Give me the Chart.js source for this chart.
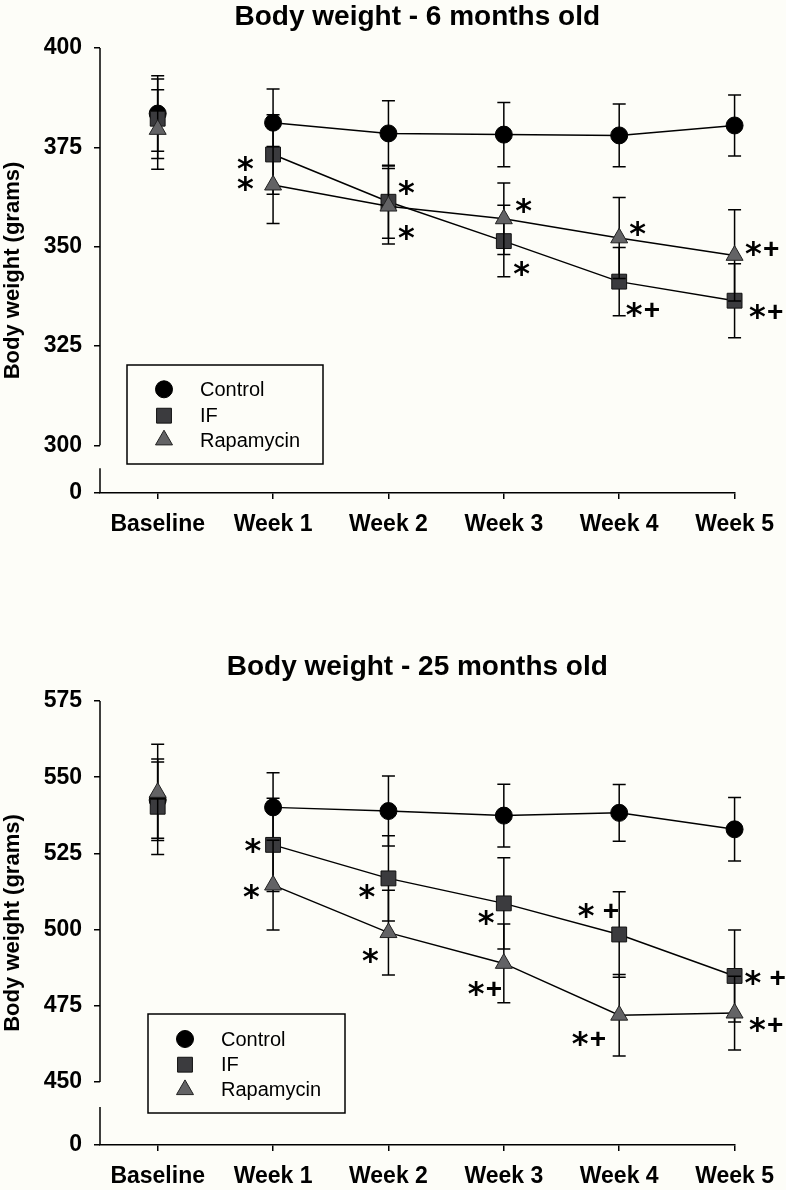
<!DOCTYPE html>
<html>
<head>
<meta charset="utf-8">
<script src="https://cdn.jsdelivr.net/npm/chart.js@4.4.0/dist/chart.umd.min.js"></script>
<style>
  body { margin: 0; background: #fdfdf8; width: 786px; height: 1190px; position: relative; overflow: hidden; }
  canvas { position: absolute; left: 0; }
  #chart6 { top: 0; }
  #chart25 { top: 640px; }
</style>
</head>
<body>
<canvas id="chart6" width="786" height="543"></canvas>
<canvas id="chart25" width="786" height="550"></canvas>
<script>
// ---- data ----
const timepoints = ['Baseline', 'Week 1', 'Week 2', 'Week 3', 'Week 4', 'Week 5'];
const groups = ['Control', 'IF', 'Rapamycin'];

// 6 months old (grams, mean and error)
const control6 = [383.5, 381.2, 378.5, 378.2, 378.0, 380.5];
const controlErr6 = [9.5, 8.5, 8.2, 8.1, 7.9, 7.7];
const if6 = [382.2, 373.2, 361.3, 351.4, 341.2, 336.4];
const ifErr6 = [10.0, 10.0, 9.2, 9.0, 8.6, 9.3];
const rapa6 = [379.5, 365.5, 360.2, 357.0, 352.2, 347.8];
const rapaErr6 = [10.0, 9.7, 9.5, 9.0, 10.2, 11.5];
const ifMarks6 = ['', '*', '*', '*', '*+', '*+'];
const rapaMarks6 = ['', '*', '*', '*', '*', '*+'];
const yTicks6 = [300, 325, 350, 375, 400];

// 25 months old
const control25 = [542.5, 540.1, 538.9, 537.4, 538.3, 532.9];
const controlErr25 = [12.5, 11.4, 11.5, 10.3, 9.3, 10.4];
const if25 = [540.3, 527.8, 516.8, 508.6, 498.4, 484.8];
const ifErr25 = [15.7, 15.3, 14.0, 15.0, 14.0, 15.1];
const rapa25 = [545.0, 514.6, 499.0, 488.9, 471.9, 472.6];
const rapaErr25 = [15.8, 14.7, 13.9, 12.9, 13.4, 12.1];
const ifMarks25 = ['', '*', '*', '*', '* +', '* +'];
const rapaMarks25 = ['', '*', '*', '*+', '*+', '*+'];
const yTicks25 = [450, 475, 500, 525, 550, 575];

const FONT = 'Arial, "Liberation Sans", Helvetica, sans-serif';
Chart.defaults.font.family = FONT;
Chart.defaults.color = '#000';

const BG = '#fdfdf8';
const styles = [
  { pointStyle: 'circle', radius: 8.5, fill: '#000', stroke: '#000', order: 3 },
  { pointStyle: 'rect', radius: 10.5, fill: '#3b3b3e', stroke: '#111', order: 2 },
  { pointStyle: 'triangle', radius: 9.8, fill: '#636365', stroke: '#222', order: 1 }
];

function drawMarker(ctx, st, x, y) {
  ctx.save();
  ctx.fillStyle = st.fill;
  ctx.strokeStyle = st.stroke;
  ctx.lineWidth = 1;
  ctx.beginPath();
  if (st.pointStyle === 'circle') {
    ctx.arc(x, y, st.radius, 0, Math.PI * 2);
  } else if (st.pointStyle === 'rect') {
    const h = st.radius * Math.SQRT1_2;
    ctx.rect(x - h, y - h, 2 * h, 2 * h);
  } else {
    const r = st.radius;
    ctx.moveTo(x, y - r);
    ctx.lineTo(x + r * 0.866, y + r / 2);
    ctx.lineTo(x - r * 0.866, y + r / 2);
    ctx.closePath();
  }
  ctx.fill();
  ctx.stroke();
  ctx.restore();
}

// draws "*", "+" centred on their ink at (cx, cy)
function drawMark(ctx, text, cx, cy) {
  const glyphs = [];
  let gap = 0;
  for (const ch of text) {
    if (ch === ' ') { gap = 9; continue; }
    const font = ch === '*' ? 'bold 32px "DejaVu Sans"' : 'bold 28px ' + FONT;
    ctx.font = font;
    const m = ctx.measureText(ch);
    glyphs.push({ ch, font, m, gap: glyphs.length ? (gap || 2) : 0 });
    gap = 0;
  }
  let total = 0;
  glyphs.forEach(g => { total += g.gap + g.m.actualBoundingBoxLeft + g.m.actualBoundingBoxRight; });
  let x = cx - total / 2;
  ctx.save();
  ctx.fillStyle = '#000';
  ctx.textAlign = 'left';
  ctx.textBaseline = 'alphabetic';
  glyphs.forEach(g => {
    x += g.gap;
    ctx.font = g.font;
    const base = cy + (g.m.actualBoundingBoxAscent - g.m.actualBoundingBoxDescent) / 2;
    ctx.fillText(g.ch, x + g.m.actualBoundingBoxLeft, base);
    x += g.m.actualBoundingBoxLeft + g.m.actualBoundingBoxRight;
  });
  ctx.restore();
}

function makeChart(id, cfg) {
  const series = [cfg.control, cfg.ifd, cfg.rapa];
  const errs = [cfg.controlErr, cfg.ifErr, cfg.rapaErr];
  const marks = [null, cfg.ifMarks, cfg.rapaMarks];

  const datasets = series.map((vals, s) => ({
    label: groups[s],
    data: vals.map((v, i) => ({ x: i, y: v })),
    clip: false,
    borderColor: '#000',
    borderWidth: 1.5,
    tension: 0,
    pointStyle: styles[s].pointStyle,
    pointRadius: styles[s].radius,
    pointHoverRadius: styles[s].radius,
    pointBackgroundColor: styles[s].fill,
    pointBorderColor: styles[s].stroke,
    pointBorderWidth: 1,
    order: styles[s].order,
    // no line from baseline to week 1
    segment: { borderColor: c => c.p0DataIndex === 0 ? 'rgba(0,0,0,0)' : '#000' }
  }));

  const errorBars = {
    id: 'errorBars',
    beforeDatasetDraw(chart, args) {
      const ctx = chart.ctx, xs = chart.scales.x, ys = chart.scales.y;
      const e = errs[args.index];
      ctx.save();
      ctx.strokeStyle = '#000';
      ctx.lineWidth = 1.5;
      series[args.index].forEach((v, i) => {
        const px = xs.getPixelForValue(i);
        const top = ys.getPixelForValue(v + e[i]);
        const bot = ys.getPixelForValue(v - e[i]);
        ctx.beginPath();
        ctx.moveTo(px, top); ctx.lineTo(px, bot);
        ctx.moveTo(px - 6.5, top); ctx.lineTo(px + 6.5, top);
        ctx.moveTo(px - 6.5, bot); ctx.lineTo(px + 6.5, bot);
        ctx.stroke();
      });
      ctx.restore();
    }
  };

  const brokenAxis = {
    id: 'brokenAxis',
    beforeDatasetsDraw(chart) {
      const ctx = chart.ctx, ys = chart.scales.y;
      const x0 = chart.chartArea.left;
      ctx.save();
      ctx.strokeStyle = '#000';
      ctx.lineWidth = 1.5;
      ctx.beginPath();
      ctx.moveTo(x0, ys.getPixelForValue(ys.max));
      ctx.lineTo(x0, ys.getPixelForValue(cfg.yTicks[0]));
      ctx.moveTo(x0, ys.getPixelForValue(cfg.breakAt));
      ctx.lineTo(x0, ys.getPixelForValue(ys.min));
      ctx.stroke();
      ctx.restore();
    }
  };

  const extras = {
    id: 'extras',
    afterDraw(chart) {
      const ctx = chart.ctx, xs = chart.scales.x, ys = chart.scales.y;
      // significance marks
      marks.forEach((mk, s) => {
        if (!mk) return;
        mk.forEach((t, i) => {
          if (!t) return;
          const off = cfg.markOffsets[s][i];
          drawMark(ctx, t, xs.getPixelForValue(i) + off[0], ys.getPixelForValue(series[s][i]) + off[1]);
        });
      });
      // legend box
      const L = cfg.legend;
      ctx.save();
      ctx.fillStyle = BG;
      ctx.fillRect(L.left, L.top, L.width, L.height);
      ctx.strokeStyle = '#000';
      ctx.lineWidth = 1.5;
      ctx.strokeRect(L.left, L.top, L.width, L.height);
      ctx.font = '20px ' + FONT;
      ctx.fillStyle = '#000';
      ctx.textAlign = 'left';
      ctx.textBaseline = 'middle';
      groups.forEach((g, s) => {
        const cy = L.top + L.rows[s];
        drawMarker(ctx, styles[s], L.left + 37, cy);
        ctx.fillStyle = '#000';
        ctx.fillText(g, L.left + 73, cy + 1);
      });
      ctx.restore();
    }
  };

  return new Chart(document.getElementById(id), {
    type: 'line',
    data: { datasets },
    options: {
      responsive: false,
      animation: false,
      events: [],
      layout: { padding: { left: 0, right: 51, top: 0, bottom: 0 } },
      plugins: {
        legend: { display: false },
        tooltip: { enabled: false },
        title: {
          display: true,
          text: cfg.title,
          fullSize: false,
          color: '#000',
          font: { size: 28, weight: 'bold' },
          padding: cfg.titlePadding
        }
      },
      scales: {
        x: {
          type: 'linear',
          min: -0.5,
          max: timepoints.length - 1,
          afterBuildTicks: s => { s.ticks = timepoints.map((_, i) => ({ value: i })); },
          ticks: {
            callback: v => timepoints[Math.round(v)],
            font: { size: 23, weight: 'bold' },
            color: '#000',
            padding: 12,
            maxRotation: 0,
            autoSkip: false
          },
          grid: { display: true, drawOnChartArea: false, drawTicks: true, tickLength: 6, color: '#000', lineWidth: 1.5 },
          border: { display: true, color: '#000', width: 1.5 },
          afterFit: s => { s.height = cfg.xHeight; }
        },
        y: {
          type: 'linear',
          min: cfg.zeroAt,
          max: cfg.yTicks[cfg.yTicks.length - 1],
          afterBuildTicks: s => { s.ticks = [cfg.zeroAt, ...cfg.yTicks].map(v => ({ value: v })); },
          ticks: {
            callback: v => Math.abs(v - cfg.zeroAt) < 0.01 ? '0' : v,
            font: { size: 23, weight: 'bold' },
            color: '#000',
            padding: 12
          },
          grid: { display: true, drawOnChartArea: false, drawTicks: true, tickLength: 6, color: '#000', lineWidth: 1.5 },
          border: { display: false },
          title: {
            display: true,
            text: 'Body weight (grams)',
            color: '#000',
            font: { size: 22, weight: 'bold' },
            padding: 0
          },
          afterFit: s => { s.width = 100; }
        }
      }
    },
    plugins: [errorBars, brokenAxis, extras]
  });
}

makeChart('chart6', {
  title: 'Body weight - 6 months old',
  titlePadding: { top: 0, bottom: 14.4 },
  control: control6, controlErr: controlErr6,
  ifd: if6, ifErr: ifErr6,
  rapa: rapa6, rapaErr: rapaErr6,
  ifMarks: ifMarks6, rapaMarks: rapaMarks6,
  yTicks: yTicks6,
  zeroAt: 288,
  breakAt: 294.2,
  xHeight: 50,
  markOffsets: [null,
    [null, [-27.5, 9.5], [18, -14.5], [18, 27], [23.5, 27.7], [31.5, 10.7]],
    [null, [-27.5, -2], [18, 26.5], [20, -13.5], [18.5, -9], [27.5, -6.7]]],
  legend: { left: 127, top: 365, width: 196, height: 99, rows: [24.3, 50.7, 75] }
});

makeChart('chart25', {
  title: 'Body weight - 25 months old',
  titlePadding: { top: 10.7, bottom: 16.7 },
  control: control25, controlErr: controlErr25,
  ifd: if25, ifErr: ifErr25,
  rapa: rapa25, rapaErr: rapaErr25,
  ifMarks: ifMarks25, rapaMarks: rapaMarks25,
  yTicks: yTicks25,
  zeroAt: 429.33,
  breakAt: 441.8,
  xHeight: 45,
  markOffsets: [null,
    [null, [-20, 1], [-21.5, 13.6], [-17.5, 14], [-21, -23.5], [30.5, 1.5]],
    [null, [-21.5, 6], [-18, 23], [-19, 25], [-30.5, 23], [31.5, 11.5]]],
  legend: { left: 148, top: 374, width: 197, height: 99, rows: [25, 50.7, 75.7] }
});
</script>
</body>
</html>
